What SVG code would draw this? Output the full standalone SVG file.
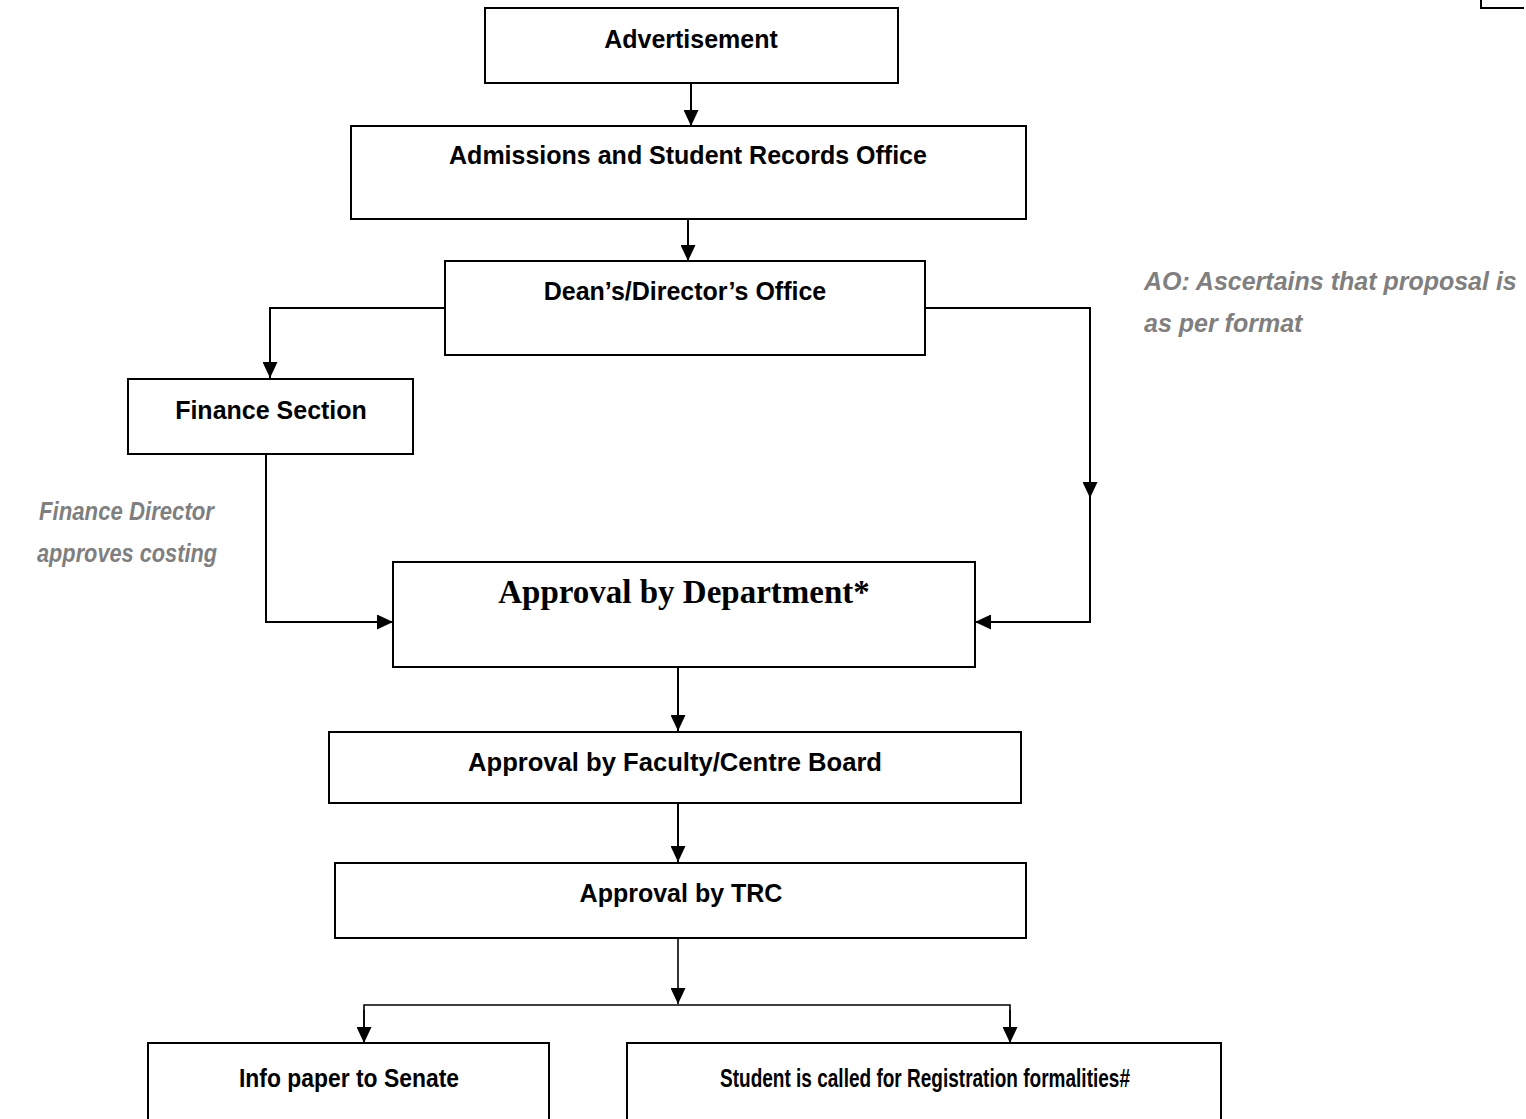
<svg xmlns="http://www.w3.org/2000/svg" width="1526" height="1119" viewBox="0 0 1526 1119">
<style>
.box{fill:#fff;stroke:#000;stroke-width:2}
.lbl{font-family:"Liberation Sans",Arial,sans-serif;font-weight:bold;font-size:25px;fill:#000;text-anchor:middle}
.ser{font-family:"Liberation Serif","Times New Roman",serif;font-weight:bold;font-size:33px;fill:#000;text-anchor:middle}
.note{font-family:"Liberation Sans",Arial,sans-serif;font-weight:bold;font-style:italic;font-size:25px;fill:#7f7f7f}
.ln{fill:none;stroke:#000;stroke-width:2}
.ln2{fill:none;stroke:#000;stroke-width:1.6}
</style>
<defs>
<marker id="ah" viewBox="0 0 16 15" refX="16" refY="7.5" markerWidth="16" markerHeight="15" markerUnits="userSpaceOnUse" orient="auto">
<path d="M0,0 L16,7.5 L0,15 Z" fill="#000"/>
</marker>
</defs>
<rect width="1526" height="1119" fill="#fff"/>
<path d="M1481,0 V8 H1524" fill="none" stroke="#000" stroke-width="2"/>
<g id="connectors">
<line class="ln" x1="691" y1="83" x2="691" y2="126" marker-end="url(#ah)"/>
<line class="ln" x1="688" y1="219" x2="688" y2="261" marker-end="url(#ah)"/>
<polyline class="ln" points="445,308 270,308 270,378" marker-end="url(#ah)"/>
<polyline class="ln" points="266,454 266,622 393,622" marker-end="url(#ah)"/>
<polyline class="ln" points="925,308 1090,308 1090,498" marker-end="url(#ah)"/>
<polyline class="ln" points="1090,496 1090,622 975,622" marker-end="url(#ah)"/>
<line class="ln" x1="678" y1="667" x2="678" y2="731" marker-end="url(#ah)"/>
<line class="ln" x1="678" y1="803" x2="678" y2="862" marker-end="url(#ah)"/>
<line class="ln2" x1="678" y1="938" x2="678" y2="1004" marker-end="url(#ah)"/>
<polyline class="ln2" points="364,1030 364,1005 1010,1005 1010,1030"/>
<line class="ln2" x1="364" y1="1010" x2="364" y2="1043" marker-end="url(#ah)"/>
<line class="ln2" x1="1010" y1="1010" x2="1010" y2="1043" marker-end="url(#ah)"/>
</g>
<g id="advertisement"><rect class="box" x="485" y="8" width="413" height="75" stroke-width="3"/><text class="lbl" x="691" y="48">Advertisement</text></g>
<g id="admissions"><rect class="box" x="351" y="126" width="675" height="93"/><text class="lbl" x="688" y="164">Admissions and Student Records Office</text></g>
<g id="dean"><rect class="box" x="445" y="261" width="480" height="94"/><text class="lbl" x="685" y="300">Dean’s/Director’s Office</text></g>
<g id="finance"><rect class="box" x="128" y="379" width="285" height="75"/><text class="lbl" x="271" y="419">Finance Section</text></g>
<g id="department"><rect class="box" x="393" y="562" width="582" height="105"/><text class="ser" x="684" y="603">Approval by Department*</text></g>
<g id="faculty"><rect class="box" x="329" y="732" width="692" height="71"/><text class="lbl" x="675" y="771" textLength="414" lengthAdjust="spacingAndGlyphs">Approval by Faculty/Centre Board</text></g>
<g id="trc"><rect class="box" x="335" y="863" width="691" height="75"/><text class="lbl" x="681" y="902">Approval by TRC</text></g>
<g id="senate"><rect class="box" x="148" y="1043" width="401" height="90" stroke-width="1.6"/><text class="lbl" x="349" y="1087" textLength="220" lengthAdjust="spacingAndGlyphs">Info paper to Senate</text></g>
<g id="registration"><rect class="box" x="627" y="1043" width="594" height="90" stroke-width="1.6"/><text class="lbl" x="925" y="1087" textLength="410" lengthAdjust="spacingAndGlyphs">Student is called for Registration formalities#</text></g>
<g id="note-ao"><text class="note" x="1144" y="290">AO: Ascertains that proposal is</text><text class="note" x="1144" y="332">as per format</text></g>
<g id="note-finance"><text class="note" x="214" y="520" text-anchor="end" textLength="175" lengthAdjust="spacingAndGlyphs">Finance Director</text><text class="note" x="217" y="562" text-anchor="end" textLength="180" lengthAdjust="spacingAndGlyphs">approves costing</text></g>
</svg>
